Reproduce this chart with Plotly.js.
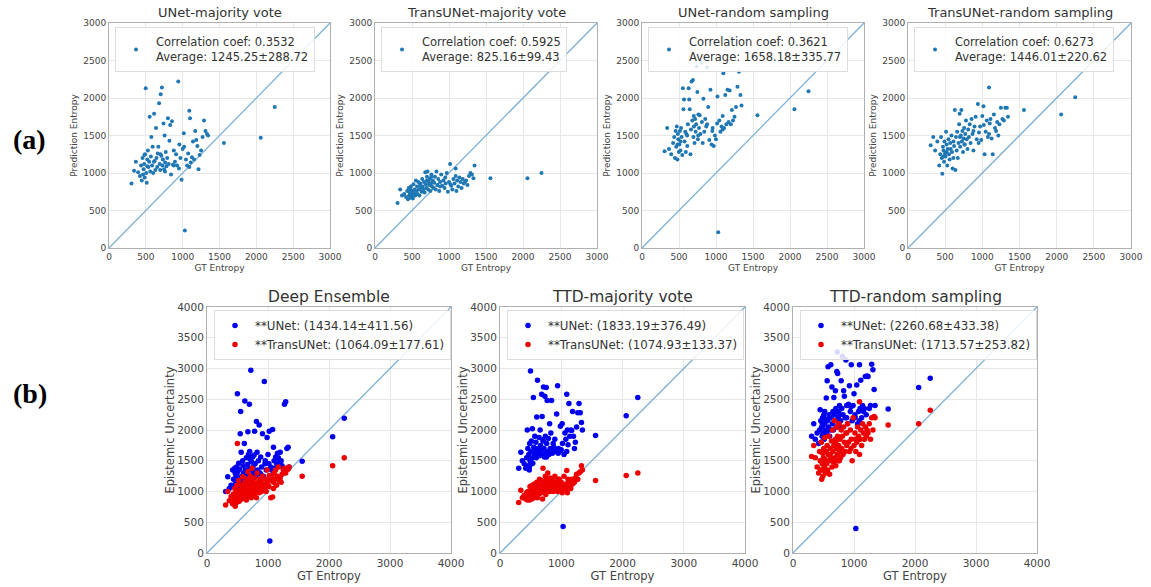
<!DOCTYPE html>
<html>
<head>
<meta charset="utf-8">
<script src="https://cdn.plot.ly/plotly-3.0.1.min.js"></script>
<style>html,body{margin:0;padding:0;background:#fff;}#chart{width:1151px;height:587px;}</style>
</head>
<body>
<div id="chart"></div>
<script>
// Shared ground-truth entropy (x values), one per image
const gtEntropy = [
305,340,365,395,420,435,445,455,462,470,
478,485,490,498,505,512,520,528,535,545,
552,560,568,575,585,592,600,612,620,630,
638,645,655,662,670,680,688,695,702,710,
718,725,732,740,748,755,762,770,780,790,
800,810,820,830,842,855,868,880,895,910,
925,940,955,970,985,1000,1015,1030,1045,1060,
1075,1090,1100,1110,1125,1140,1155,1170,1185,1200,
1215,1230,1250,1270,1290,1310,1330,1345,1090,520,
1560,2060,2250,610,700,760,880,950,1020,480];

// (a) Prediction entropy
const unetMajority = [
860,1030,1150,1010,960,1100,900,1200,980,1050,
1120,940,1250,2130,1000,870,1180,1300,1080,1150,
1750,1020,1220,1480,1100,1350,1000,1790,1160,1040,
1600,1200,1080,1260,1350,1930,1120,1040,2050,1230,
2140,1100,1180,1660,1050,1500,1140,1280,1090,1200,
1730,1120,1430,1640,980,1690,1110,1300,1150,1250,
1100,2220,1380,1200,910,1320,1530,235,1180,1100,
1260,1830,1730,1140,1210,1420,1180,1560,1440,1360,
1050,1240,1300,1480,1700,1560,1520,1500,1080,1090,
1400,1470,1880,1150,1250,1020,1100,1060,1350,1240];
const transunetMajority = [
600,780,700,720,680,760,650,800,700,740,
670,820,720,690,760,660,850,730,780,700,
900,760,820,720,880,780,700,860,800,750,
920,820,780,880,740,1010,850,800,950,1020,
780,880,840,920,760,860,980,820,900,800,
870,950,780,1020,840,920,760,880,980,830,
900,800,860,1000,750,880,1120,830,780,920,
860,1060,760,900,820,940,880,800,920,860,
880,900,840,960,1000,980,930,1100,960,700,
930,930,1000,840,900,950,820,940,850,780];
const unetRandom = [
1290,1600,1320,1250,1400,1480,1200,1560,1350,1620,
1180,1520,1450,1280,1380,1560,1300,1600,1480,1240,
2130,1850,1980,1420,1550,1280,1520,1360,1650,2130,
1980,1850,1250,1580,2220,1700,2240,1480,1620,1400,
1720,1550,1650,2420,2080,1450,1780,1600,1770,1520,
2470,1680,1400,1990,1550,1720,1620,2410,1880,1440,
2110,1380,1600,1360,1500,1450,1660,210,1700,1550,
1620,1760,2330,1600,2040,1650,2110,1680,2100,1650,
1840,1700,1750,1880,2150,2350,2040,1900,1580,1420,
1770,1850,2090,1500,1760,1500,1650,1560,2020,1380];
const transunetRandom = [
1370,1480,1300,1420,1100,1250,1480,1200,990,1350,
1300,1150,1420,1260,1220,1550,1380,1100,1320,1450,
1250,1180,1400,1320,1500,1280,1060,1420,1360,1840,
1040,1480,1300,1550,1200,1400,1650,1790,1350,1500,
1840,1420,1560,1280,1460,1600,1380,1520,1700,1450,
1320,1580,1480,1650,1400,1720,1520,1300,1620,1750,
1450,1920,1540,1620,1440,1760,1890,1250,1550,1700,
1480,2140,1660,1720,1460,1250,1780,1600,1560,1680,
1500,1650,1870,1720,1700,1870,1870,1750,1520,1280,
1840,1780,2010,1200,1480,1380,1560,1400,1640,1220];

// (b) Epistemic uncertainty
const ensembleUNet = [
1000,1240,1050,1100,1350,1200,1080,1380,1300,1150,
1250,1400,1050,2590,1320,1200,1460,1100,1360,1940,
2300,1640,1250,1180,1500,1420,1300,1780,2470,1350,
1150,1550,1280,1440,1970,1600,1380,2420,1250,1520,
2970,1350,1480,1200,1560,1400,1300,1590,1980,1450,
1250,2140,1640,1350,1500,2080,1300,1560,1400,1940,
1250,2790,1500,1350,1880,1600,1450,195,1400,1350,
2010,1720,1500,1380,1560,1450,1620,1550,1480,1640,
1500,1420,1380,2420,2460,1700,1720,1400,1300,1120,
1490,1890,2190,1200,1650,1350,1280,1450,1980,1280];
const ensembleTransUNet = [
780,1000,850,920,800,960,880,1050,760,900,
980,820,1100,1780,880,950,1180,840,1020,900,
1000,1100,880,960,1240,1050,900,1000,1150,940,
1080,860,1200,1000,1320,920,1100,1050,980,1250,
1120,900,1000,1380,1080,950,1150,1050,1220,980,
1100,900,1300,1050,1150,980,1200,1080,1000,1250,
1120,1050,1200,1000,1350,1150,1080,1200,900,1250,
910,1150,1300,1200,1350,1100,1250,1400,1180,1220,
1150,1280,1350,1380,1300,1380,1360,1400,1050,960,
1250,1420,1550,1020,1180,1080,1150,1100,1260,850];
const majorityUNet = [
1380,1640,1500,1450,1380,1550,2000,1700,1420,1600,
1350,1780,1500,2960,1650,1820,1540,2020,1460,2530,
1720,1600,1900,1650,1800,1550,2210,2810,1700,1620,
1880,1580,2000,1750,1680,2580,2220,1600,1820,2700,
1700,1560,2550,1900,1640,2690,1780,2480,1650,1860,
1600,2100,1700,1950,2480,1620,1780,1680,1850,1650,
2260,2720,1700,1650,2060,1680,2100,430,1600,1950,
1850,2580,2000,1760,2430,1900,2000,1990,2300,1900,
1700,1800,2050,2280,2430,2280,2120,2000,1650,1450,
1910,2230,2530,1640,1840,1560,1720,1620,1780,1400];
const majorityTransUNet = [
820,1020,900,940,880,980,860,1000,920,880,
960,870,1080,900,940,1020,880,1100,960,1000,
900,1120,1000,940,1060,980,1150,900,1040,1100,
960,1200,1020,1100,980,1180,1060,880,1380,1120,
1000,1150,1060,1250,950,1100,1200,1040,1300,1080,
1150,1000,1220,1100,1050,1180,1000,1120,1250,1060,
1150,1000,1100,1200,1050,1150,980,1100,1250,1050,
1120,1340,980,1200,1100,1150,1050,1200,1120,1180,
1150,1220,1280,1200,1300,1320,1420,1350,1050,960,
1180,1260,1300,1000,1100,1080,1160,1200,1080,860];
const randomUNet = [
1900,2100,1850,1950,1780,2000,2330,2150,1800,2050,
1900,2200,1950,2080,2250,1850,2100,2000,2180,2520,
1950,2800,2150,3030,2050,2250,1900,2000,3060,2200,
2700,2100,2300,2000,2530,2250,2150,2640,2350,2050,
2950,3270,2920,2200,2300,2100,2400,2250,2150,2800,
2350,3200,2250,2640,2550,2200,3140,2400,2100,2420,
2720,2300,3060,2150,2400,2590,2250,400,2730,2100,
2300,3060,2350,2810,2200,2400,2300,2350,2870,2250,
2880,2870,2350,2400,3070,2980,2660,2400,2150,2300,
2340,2690,2840,2200,2300,2050,2200,2380,2200,2100];
const randomTransUNet = [
1570,1750,1550,1400,1300,1650,1500,1350,1800,1200,
1450,1620,1250,1550,1700,1400,1880,1520,1300,1650,
1450,1750,1350,1600,1900,1500,1280,1700,1550,1820,
1400,2000,1650,1480,1750,2150,1550,1850,1420,1700,
2050,1600,1900,1500,1750,2100,1650,1850,1550,2000,
1700,1900,1600,2050,1800,1650,1950,1750,2100,1800,
1650,2000,1850,1500,2200,1750,1950,1650,1800,2050,
1900,2460,1850,2000,1750,2100,1950,1850,2050,1900,
2000,1950,2100,1850,2200,2000,2220,2200,1600,1500,
2080,2100,2320,1600,1800,1500,1950,1700,1850,1350];

const topTitles = ["UNet-majority vote","TransUNet-majority vote","UNet-random sampling","TransUNet-random sampling"];
const topSeries = [unetMajority, transunetMajority, unetRandom, transunetRandom];
const topLegend = ["Correlation coef: 0.3532<br>Average: 1245.25±288.72",
                   "Correlation coef: 0.5925<br>Average: 825.16±99.43",
                   "Correlation coef: 0.3621<br>Average: 1658.18±335.77",
                   "Correlation coef: 0.6273<br>Average: 1446.01±220.62"];
const bottomTitles = ["Deep Ensemble","TTD-majority vote","TTD-random sampling"];
const bottomUNet = [ensembleUNet, majorityUNet, randomUNet];
const bottomTrans = [ensembleTransUNet, majorityTransUNet, randomTransUNet];
const bottomLegendUNet = ["**UNet: (1434.14±411.56)","**UNet: (1833.19±376.49)","**UNet: (2260.68±433.38)"];
const bottomLegendTrans = ["**TransUNet: (1064.09±177.61)","**TransUNet: (1074.93±133.37)","**TransUNet: (1713.57±253.82)"];

const W = 1151, H = 587;
const topBoxes = [[109,330],[375,597],[642,864],[908,1131]];
const topY = [23,248];
const botBoxes = [[207,451],[500,745],[793,1037]];
const botY = [307,553];

const FONT = "DejaVu Sans, Arial, sans-serif";
const traces = [];
const layout = {
  width: W, height: H, margin: {l:0,r:0,t:0,b:0},
  paper_bgcolor: "#fff", plot_bgcolor: "#fff",
  font: {family: FONT, color: "#444"},
  showlegend: true, annotations: [], shapes: []
};

function axisPair(i, xb, yb, maxV, xdt, ydt, tickSize, titleSize, ytitle, ystand) {
  const sfx = i === 0 ? "" : String(i+1);
  const common = {
    showgrid: true, gridcolor: "#e8e8e8", gridwidth: 1,
    showline: true, linecolor: "#b0b0b0", linewidth: 1, mirror: true,
    zeroline: false, ticks: "", tickfont: {size: tickSize, color: "#444", family: FONT},
    range: [0, maxV], fixedrange: true
  };
  layout["xaxis"+sfx] = Object.assign({}, common, {
    domain: [xb[0]/W, xb[1]/W], anchor: "y"+sfx, dtick: xdt, tick0: 0,
    title: {text: "GT Entropy", font: {size: titleSize, color: "#444"}, standoff: 3}
  });
  layout["yaxis"+sfx] = Object.assign({}, common, {
    domain: [1 - yb[1]/H, 1 - yb[0]/H], anchor: "x"+sfx, dtick: ydt, tick0: 0,
    title: {text: ytitle, font: {size: titleSize, color: "#444"}, standoff: ystand}
  });
  return sfx;
}

// top row
topSeries.forEach((ys, i) => {
  const sfx = axisPair(i, topBoxes[i], topY, 3000, 500, 500, 9, 9, "Prediction Entropy", 4);
  const lg = "legend" + (i === 0 ? "" : String(i+1));
  traces.push({x:[0,3000], y:[0,3000], xaxis:"x"+sfx, yaxis:"y"+sfx, mode:"lines",
    line:{color:"#7cb0d6", width:1.3}, showlegend:false, hoverinfo:"skip"});
  traces.push({x: gtEntropy, y: ys, xaxis:"x"+sfx, yaxis:"y"+sfx, mode:"markers",
    marker:{color:"#1f77b4", size:4}, name: topLegend[i], legend: lg});
  layout[lg] = {x:(topBoxes[i][0]+6)/W, y:1-(topY[0]+4)/H, xanchor:"left", yanchor:"top",
    bgcolor:"rgba(255,255,255,0.85)", bordercolor:"#dddddd", borderwidth:1,
    font:{size:11.5, color:"#333", family: FONT}, itemwidth:30, tracegroupgap:0};
  layout.annotations.push({text: topTitles[i], xref:"paper", yref:"paper",
    x:(topBoxes[i][0]+topBoxes[i][1])/2/W, y:1-12/H, showarrow:false,
    xanchor:"center", yanchor:"middle", font:{size:13, color:"#333", family: FONT}});
});

// bottom row
bottomUNet.forEach((ys, j) => {
  const i = j + 4;
  const sfx = axisPair(i, botBoxes[j], botY, 4000, 1000, 500, 10.5, 11.5, "Epistemic Uncertainty", 0);
  const lg = "legend" + String(i+1);
  traces.push({x:[0,4000], y:[0,4000], xaxis:"x"+sfx, yaxis:"y"+sfx, mode:"lines",
    line:{color:"#7cb0d6", width:1.3}, showlegend:false, hoverinfo:"skip"});
  traces.push({x: gtEntropy, y: ys, xaxis:"x"+sfx, yaxis:"y"+sfx, mode:"markers",
    marker:{color:"#0000ee", size:5.5}, name: bottomLegendUNet[j], legend: lg});
  traces.push({x: gtEntropy, y: bottomTrans[j], xaxis:"x"+sfx, yaxis:"y"+sfx, mode:"markers",
    marker:{color:"#ee0000", size:5.5}, name: bottomLegendTrans[j], legend: lg});
  layout[lg] = {x:(botBoxes[j][0]+7)/W, y:1-(botY[0]+3)/H, xanchor:"left", yanchor:"top",
    bgcolor:"rgba(255,255,255,0.85)", bordercolor:"#dddddd", borderwidth:1,
    font:{size:11.8, color:"#333", family: FONT}, itemwidth:30, tracegroupgap:0};
  layout.annotations.push({text: bottomTitles[j], xref:"paper", yref:"paper",
    x:(botBoxes[j][0]+botBoxes[j][1])/2/W, y:1-297/H, showarrow:false,
    xanchor:"center", yanchor:"middle", font:{size:15.5, color:"#333", family: FONT}});
});

layout.annotations.push({text:"<b>(a)</b>", xref:"paper", yref:"paper", x:30/W, y:1-140/H,
  showarrow:false, xanchor:"center", yanchor:"middle",
  font:{size:28, color:"#000", family:"Liberation Serif, Times New Roman, serif"}});
layout.annotations.push({text:"<b>(b)</b>", xref:"paper", yref:"paper", x:30/W, y:1-393/H,
  showarrow:false, xanchor:"center", yanchor:"middle",
  font:{size:28, color:"#000", family:"Liberation Serif, Times New Roman, serif"}});

Plotly.newPlot("chart", traces, layout, {staticPlot:true, displayModeBar:false});
</script>
</body>
</html>
